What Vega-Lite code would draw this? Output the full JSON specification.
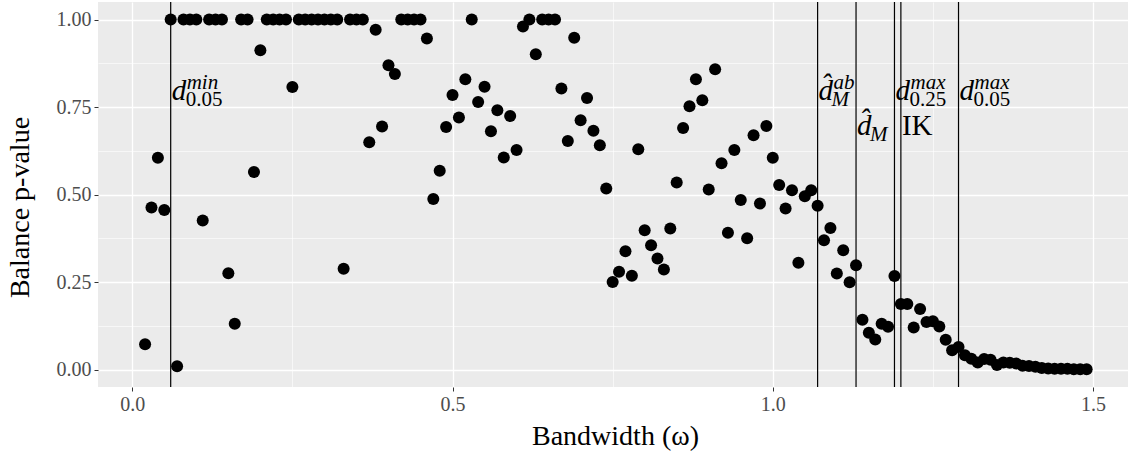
{
  "$schema": "https://vega.github.io/schema/vega-lite/v6.json",
  "width": 1030,
  "height": 385,
  "autosize": "none",
  "padding": {"left": 98, "top": 2, "right": 0, "bottom": 66},
  "background": "white",
  "config": {
    "view": {"fill": "#EBEBEB", "stroke": null},
    "font": "Liberation Serif",
    "axis": {
      "labelFont": "Liberation Serif",
      "titleFont": "Liberation Serif",
      "labelColor": "#4D4D4D",
      "titleColor": "black",
      "titleFontWeight": "normal",
      "gridColor": "white",
      "domain": false,
      "tickColor": "#333333"
    }
  },
  "datasets": {
    "pvals": [
      {"w": 0.02, "p": 0.072}, {"w": 0.03, "p": 0.463}, {"w": 0.04, "p": 0.605}, {"w": 0.05, "p": 0.456},
      {"w": 0.06, "p": 1.0}, {"w": 0.07, "p": 0.009}, {"w": 0.08, "p": 1.0}, {"w": 0.09, "p": 1.0},
      {"w": 0.10, "p": 1.0}, {"w": 0.11, "p": 0.426}, {"w": 0.12, "p": 1.0}, {"w": 0.13, "p": 1.0},
      {"w": 0.14, "p": 1.0}, {"w": 0.15, "p": 0.275}, {"w": 0.16, "p": 0.131}, {"w": 0.17, "p": 1.0},
      {"w": 0.18, "p": 1.0}, {"w": 0.19, "p": 0.564}, {"w": 0.20, "p": 0.912}, {"w": 0.21, "p": 1.0},
      {"w": 0.22, "p": 1.0}, {"w": 0.23, "p": 1.0}, {"w": 0.24, "p": 1.0}, {"w": 0.25, "p": 0.807},
      {"w": 0.26, "p": 1.0}, {"w": 0.27, "p": 1.0}, {"w": 0.28, "p": 1.0}, {"w": 0.29, "p": 1.0},
      {"w": 0.30, "p": 1.0}, {"w": 0.31, "p": 1.0}, {"w": 0.32, "p": 1.0}, {"w": 0.33, "p": 0.288},
      {"w": 0.34, "p": 1.0}, {"w": 0.35, "p": 1.0}, {"w": 0.36, "p": 1.0}, {"w": 0.37, "p": 0.649},
      {"w": 0.38, "p": 0.971}, {"w": 0.39, "p": 0.694}, {"w": 0.40, "p": 0.869}, {"w": 0.41, "p": 0.844},
      {"w": 0.42, "p": 1.0}, {"w": 0.43, "p": 1.0}, {"w": 0.44, "p": 1.0}, {"w": 0.45, "p": 1.0},
      {"w": 0.46, "p": 0.946}, {"w": 0.47, "p": 0.487}, {"w": 0.48, "p": 0.568}, {"w": 0.49, "p": 0.693},
      {"w": 0.50, "p": 0.784}, {"w": 0.51, "p": 0.72}, {"w": 0.52, "p": 0.829}, {"w": 0.53, "p": 1.0},
      {"w": 0.54, "p": 0.764}, {"w": 0.55, "p": 0.808}, {"w": 0.56, "p": 0.681}, {"w": 0.57, "p": 0.741},
      {"w": 0.58, "p": 0.606}, {"w": 0.59, "p": 0.724}, {"w": 0.60, "p": 0.627}, {"w": 0.61, "p": 0.98},
      {"w": 0.62, "p": 1.0}, {"w": 0.63, "p": 0.901}, {"w": 0.64, "p": 1.0}, {"w": 0.65, "p": 1.0},
      {"w": 0.66, "p": 1.0}, {"w": 0.67, "p": 0.803}, {"w": 0.68, "p": 0.653}, {"w": 0.69, "p": 0.948},
      {"w": 0.70, "p": 0.712}, {"w": 0.71, "p": 0.776}, {"w": 0.72, "p": 0.682}, {"w": 0.73, "p": 0.641},
      {"w": 0.74, "p": 0.517}, {"w": 0.75, "p": 0.25}, {"w": 0.76, "p": 0.279}, {"w": 0.77, "p": 0.338},
      {"w": 0.78, "p": 0.268}, {"w": 0.79, "p": 0.629}, {"w": 0.80, "p": 0.398}, {"w": 0.81, "p": 0.355},
      {"w": 0.82, "p": 0.317}, {"w": 0.83, "p": 0.286}, {"w": 0.84, "p": 0.403}, {"w": 0.85, "p": 0.534},
      {"w": 0.86, "p": 0.69}, {"w": 0.87, "p": 0.752}, {"w": 0.88, "p": 0.829}, {"w": 0.89, "p": 0.769},
      {"w": 0.90, "p": 0.514}, {"w": 0.91, "p": 0.858}, {"w": 0.92, "p": 0.589}, {"w": 0.93, "p": 0.391},
      {"w": 0.94, "p": 0.627}, {"w": 0.95, "p": 0.484}, {"w": 0.96, "p": 0.375}, {"w": 0.97, "p": 0.669},
      {"w": 0.98, "p": 0.474}, {"w": 0.99, "p": 0.696}, {"w": 1.00, "p": 0.605}, {"w": 1.01, "p": 0.527},
      {"w": 1.02, "p": 0.46}, {"w": 1.03, "p": 0.512}, {"w": 1.04, "p": 0.305}, {"w": 1.05, "p": 0.495},
      {"w": 1.06, "p": 0.512}, {"w": 1.07, "p": 0.468}, {"w": 1.08, "p": 0.369}, {"w": 1.09, "p": 0.404},
      {"w": 1.10, "p": 0.274}, {"w": 1.11, "p": 0.341}, {"w": 1.12, "p": 0.249}, {"w": 1.13, "p": 0.298},
      {"w": 1.14, "p": 0.142}, {"w": 1.15, "p": 0.105}, {"w": 1.16, "p": 0.086}, {"w": 1.17, "p": 0.131},
      {"w": 1.18, "p": 0.122}, {"w": 1.19, "p": 0.267}, {"w": 1.20, "p": 0.187}, {"w": 1.21, "p": 0.187},
      {"w": 1.22, "p": 0.12}, {"w": 1.23, "p": 0.173}, {"w": 1.24, "p": 0.136}, {"w": 1.25, "p": 0.138},
      {"w": 1.26, "p": 0.123}, {"w": 1.27, "p": 0.085}, {"w": 1.28, "p": 0.055}, {"w": 1.29, "p": 0.064},
      {"w": 1.30, "p": 0.041}, {"w": 1.31, "p": 0.031}, {"w": 1.32, "p": 0.02}, {"w": 1.33, "p": 0.03},
      {"w": 1.34, "p": 0.028}, {"w": 1.35, "p": 0.013}, {"w": 1.36, "p": 0.02}, {"w": 1.37, "p": 0.019},
      {"w": 1.38, "p": 0.017}, {"w": 1.39, "p": 0.011}, {"w": 1.40, "p": 0.01}, {"w": 1.41, "p": 0.008},
      {"w": 1.42, "p": 0.004}, {"w": 1.43, "p": 0.003}, {"w": 1.44, "p": 0.002}, {"w": 1.45, "p": 0.002},
      {"w": 1.46, "p": 0.002}, {"w": 1.47, "p": 0.001}, {"w": 1.48, "p": 0.001}, {"w": 1.49, "p": 0.001}
    ],
    "vlines": [{"w": 0.06}, {"w": 1.07}, {"w": 1.13}, {"w": 1.19}, {"w": 1.20}, {"w": 1.29}],
    "labels": [
      {"w": 0.06, "p": 0.77, "m": "d", "sup": "min", "sub": "0.05", "subit": false},
      {"w": 1.07, "p": 0.77, "m": "d\u0302", "sup": "ab", "sub": "M", "subit": true},
      {"w": 1.13, "p": 0.67, "m": "d\u0302", "sup": "", "sub": "M", "subit": true},
      {"w": 1.19, "p": 0.77, "m": "d", "sup": "max", "sub": "0.25", "subit": false},
      {"w": 1.29, "p": 0.77, "m": "d", "sup": "max", "sub": "0.05", "subit": false}
    ],
    "plain": [{"w": 1.20, "p": 0.67, "t": "IK"}]
  },
  "resolve": {"axis": {"x": "independent", "y": "independent"}},
  "layer": [
    {
      "data": {"name": "pvals"},
      "mark": {"type": "circle", "size": 145, "color": "black", "opacity": 1},
      "encoding": {
        "x": {
          "field": "w", "type": "quantitative",
          "scale": {"domain": [-0.0535, 1.5546], "nice": false, "zero": false},
          "axis": {
            "orient": "bottom", "values": [0, 0.5, 1, 1.5], "format": ".1f",
            "title": "Bandwidth (\u03c9)", "titleFontSize": 28, "titleBaseline": "alphabetic",
            "titleY": 57, "titleX": 517,
            "labelFontSize": 20, "labelPadding": 3, "tickSize": 4, "tickWidth": 1,
            "grid": true, "gridWidth": 1.3
          }
        },
        "y": {
          "field": "p", "type": "quantitative",
          "scale": {"domain": [-0.05, 1.05], "nice": false, "zero": false},
          "axis": {
            "orient": "left", "values": [0, 0.25, 0.5, 0.75, 1], "format": ".2f",
            "title": "Balance p-value", "titleFontSize": 28, "titleAngle": 270,
            "titleBaseline": "middle", "titleAlign": "center", "titleX": -78, "titleY": 205,
            "labelFontSize": 20, "labelPadding": 3, "tickSize": 4, "tickWidth": 1,
            "grid": true, "gridWidth": 1.3
          }
        }
      }
    },
    {
      "data": {"name": "vlines"},
      "mark": {"type": "rule", "color": "black", "strokeWidth": 1.2},
      "encoding": {
        "x": {
          "field": "w", "type": "quantitative",
          "scale": {"domain": [-0.0535, 1.5546], "nice": false, "zero": false},
          "axis": {
            "orient": "top", "values": [0.25, 0.75, 1.25], "labels": false, "ticks": false,
            "title": null, "grid": true, "gridWidth": 0.6
          }
        }
      }
    },
    {
      "data": {"name": "labels"},
      "mark": {"type": "text", "align": "left", "baseline": "alphabetic", "fontSize": 29, "fontStyle": "italic", "dx": 1, "color": "black"},
      "encoding": {
        "x": {"field": "w", "type": "quantitative", "scale": {"domain": [-0.0535, 1.5546], "nice": false, "zero": false}, "axis": null},
        "y": {
          "field": "p", "type": "quantitative",
          "scale": {"domain": [-0.05, 1.05], "nice": false, "zero": false},
          "axis": {
            "orient": "right", "values": [0.125, 0.375, 0.625, 0.875], "labels": false, "ticks": false,
            "title": null, "grid": true, "gridWidth": 0.6
          }
        },
        "text": {"field": "m"}
      }
    },
    {
      "data": {"name": "labels"},
      "mark": {"type": "text", "align": "left", "baseline": "alphabetic", "fontSize": 21, "fontStyle": "italic", "dx": 16, "dy": -11, "color": "black"},
      "encoding": {
        "x": {"field": "w", "type": "quantitative", "scale": {"domain": [-0.0535, 1.5546], "nice": false, "zero": false}, "axis": null},
        "y": {"field": "p", "type": "quantitative", "scale": {"domain": [-0.05, 1.05], "nice": false, "zero": false}, "axis": null},
        "text": {"field": "sup"}
      }
    },
    {
      "data": {"name": "labels"},
      "transform": [{"filter": "!datum.subit"}],
      "mark": {"type": "text", "align": "left", "baseline": "alphabetic", "fontSize": 21, "dx": 15, "dy": 6, "color": "black"},
      "encoding": {
        "x": {"field": "w", "type": "quantitative", "scale": {"domain": [-0.0535, 1.5546], "nice": false, "zero": false}, "axis": null},
        "y": {"field": "p", "type": "quantitative", "scale": {"domain": [-0.05, 1.05], "nice": false, "zero": false}, "axis": null},
        "text": {"field": "sub"}
      }
    },
    {
      "data": {"name": "labels"},
      "transform": [{"filter": "datum.subit"}],
      "mark": {"type": "text", "align": "left", "baseline": "alphabetic", "fontSize": 21, "fontStyle": "italic", "dx": 14, "dy": 6, "color": "black"},
      "encoding": {
        "x": {"field": "w", "type": "quantitative", "scale": {"domain": [-0.0535, 1.5546], "nice": false, "zero": false}, "axis": null},
        "y": {"field": "p", "type": "quantitative", "scale": {"domain": [-0.05, 1.05], "nice": false, "zero": false}, "axis": null},
        "text": {"field": "sub"}
      }
    },
    {
      "data": {"name": "plain"},
      "mark": {"type": "text", "align": "left", "baseline": "alphabetic", "fontSize": 29, "dx": 1, "color": "black"},
      "encoding": {
        "x": {"field": "w", "type": "quantitative", "scale": {"domain": [-0.0535, 1.5546], "nice": false, "zero": false}, "axis": null},
        "y": {"field": "p", "type": "quantitative", "scale": {"domain": [-0.05, 1.05], "nice": false, "zero": false}, "axis": null},
        "text": {"field": "t"}
      }
    }
  ]
}
